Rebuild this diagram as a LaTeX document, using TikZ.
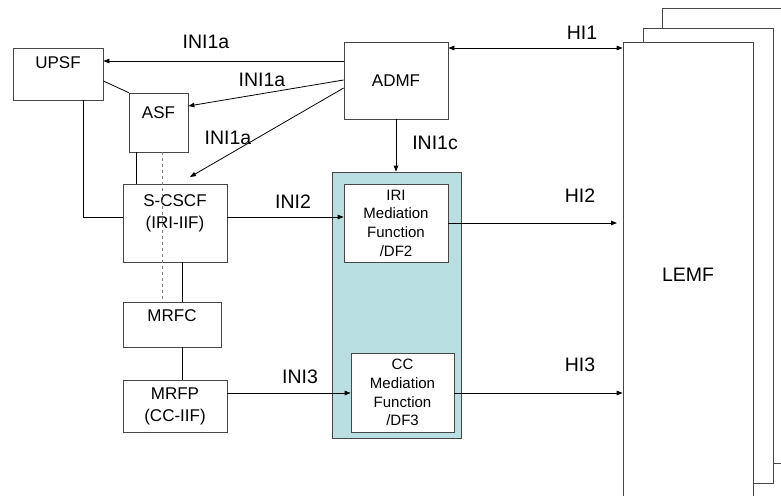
\documentclass[tikz,border=0pt]{standalone}
\usepackage{fontspec}
\setmainfont{Liberation Sans}
\usetikzlibrary{arrows.meta}
\definecolor{tealfill}{RGB}{186,223,226}
\definecolor{edgegray}{RGB}{70,70,70}
\begin{document}
\begin{tikzpicture}[x=1pt,y=-1pt,
  box/.style={draw=edgegray,line width=0.8pt,fill=white,inner sep=0pt},
  boxfont/.style={font=\fontsize{17}{22}\selectfont},
  smallfont/.style={font=\fontsize{15}{18.7}\selectfont},
  lbl/.style={font=\fontsize{19.5}{22}\selectfont,inner sep=0pt},
  arr/.style={line width=0.8pt,-{Triangle[length=6pt,width=4.5pt]}},
  con/.style={line width=0.8pt}]
\useasboundingbox (0,0) rectangle (781,495);
\begin{scope}
\clip (0,0) rectangle (781,495);
% LEMF stack
\draw[box] (662,8) rectangle (800,463);
\draw[box] (643,28) rectangle (773,483);
\node[box,minimum width=130pt,minimum height=470pt] (lemf) at (688,277) {};
\node[boxfont,font=\fontsize{19.5}{22}\selectfont] at (688,275) {LEMF};
\end{scope}
% boxes
\node[box,minimum width=90pt,minimum height=52pt,
  label={[boxfont,anchor=center,yshift=-15pt]north:UPSF}] (upsf) at (58,74) {};
\node[box,minimum width=59pt,minimum height=59pt,
  label={[boxfont,anchor=center,yshift=-20pt]north:ASF}] (asf) at (158.5,122.5) {};
\node[box,minimum width=104pt,minimum height=78pt,
  label={[boxfont,align=center,anchor=center,yshift=-30pt]north:S-CSCF\\(IRI-IIF)}] (scscf) at (175,223) {};
\node[box,minimum width=98pt,minimum height=45pt,
  label={[boxfont,anchor=center,yshift=-14pt]north:MRFC}] (mrfc) at (172,324.5) {};
\node[box,boxfont,align=center,minimum width=104pt,minimum height=52pt] (mrfp) at (175,406) {MRFP\\(CC-IIF)};
\node[box,boxfont,minimum width=104pt,minimum height=77pt] (admf) at (396,80.5) {ADMF};
\node[box,fill=tealfill,minimum width=129pt,minimum height=266pt] (teal) at (396.5,305) {};
\node[box,smallfont,align=center,minimum width=104pt,minimum height=78pt] (iri) at (396,223) {IRI\\Mediation\\Function\\/DF2};
\node[box,smallfont,align=center,minimum width=103pt,minimum height=79pt] (cc) at (402.5,392.5) {CC\\Mediation\\Function\\/DF3};
% connectors
\coordinate (t3) at (190,177);
\coordinate (hi2end) at (617,223);
\draw[arr] (admf.west |- 0,61) -- (upsf.east |- 0,61);
\draw[arr] (admf.west |- 0,80) -- (asf.east |- 0,106);
\draw[arr] (admf.west |- 0,88) -- (t3);
\draw[line width=0.8pt,{Triangle[length=6pt,width=4.5pt]}-{Triangle[length=6pt,width=4.5pt]}] (admf.east |- 0,48) -- (lemf.west |- 0,48);
\draw[arr] (admf.south) -- (admf.south |- teal.north);
\draw[arr] (scscf.east |- 0,217) -- (iri.west |- 0,217);
\draw[arr] (iri.east |- 0,223) -- (hi2end);
\draw[arr] (mrfp.east |- 0,393) -- (cc.west |- 0,393);
\draw[arr] (cc.east |- 0,393) -- (lemf.west |- 0,393);
\draw[con] (upsf.east |- 0,81) -- (asf.north west);
\draw[con] (upsf.south -| 83,0) |- (scscf.west |- 0,217);
\draw[con] (asf.south -| 136,0) -- (scscf.north -| 136,0);
\draw[con,dashed,gray] (asf.south -| 162,0) -- (mrfc.north -| 162,0);
\draw[con] (scscf.south -| 182,0) -- (mrfc.north -| 182,0);
\draw[con] (mrfc.south -| 182,0) -- (mrfp.north -| 182,0);
% labels
\node[lbl] (l1) at (206,42) {INI1a};
\node[lbl] (l2) at (262,80) {INI1a};
\node[lbl] (l3) at (228,138) {INI1a};
\node[lbl] (l4) at (582,33) {HI1};
\node[lbl] (l5) at (435,143) {INI1c};
\node[lbl] (l6) at (293,202) {INI2};
\node[lbl] (l7) at (580,196) {HI2};
\node[lbl] (l8) at (300,377) {INI3};
\node[lbl] (l9) at (580,365) {HI3};
\end{tikzpicture}
\end{document}
